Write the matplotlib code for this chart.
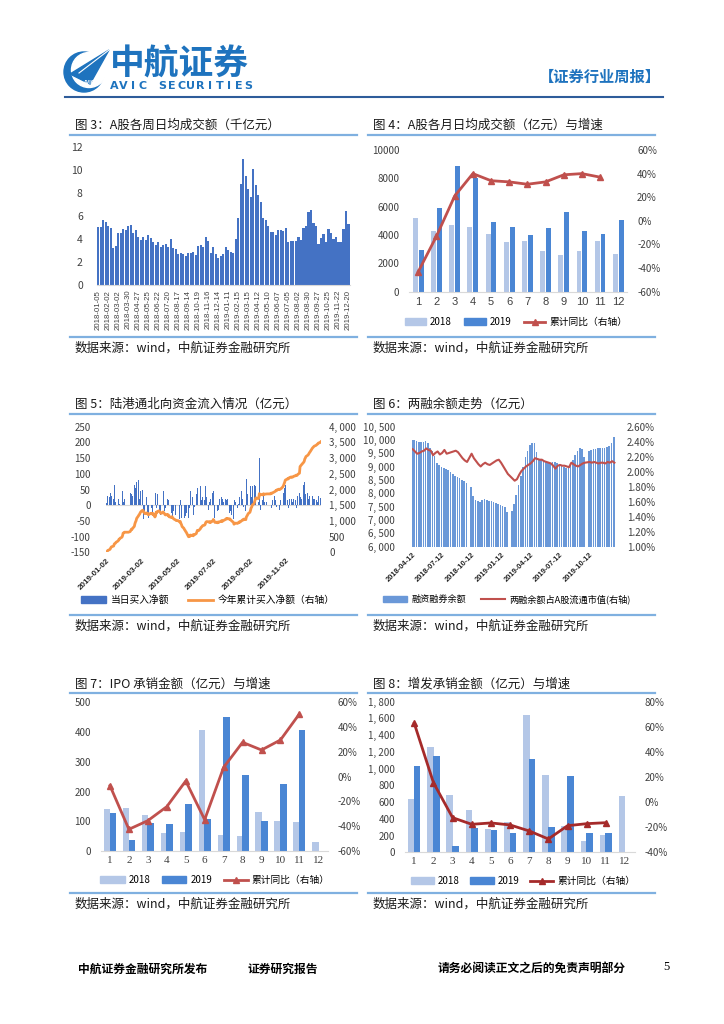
import numpy as np
import pandas as pd
import matplotlib
matplotlib.use('Agg')
import matplotlib.pyplot as plt
from matplotlib.patches import Patch, Polygon, Circle
from matplotlib.lines import Line2D

plt.rcParams['font.family'] = ['Noto Sans CJK SC', 'DejaVu Sans']
plt.rcParams['axes.unicode_minus'] = False

# ---- fig 3: weekly avg turnover (千亿元)
fig3_values = [5.0, 5.05, 5.6, 5.5, 5.1, 4.95, 3.2, 3.35, 4.5, 4.5,
               4.85, 4.75, 5.1, 5.2, 4.5, 4.75, 4.2, 3.9, 4.2, 3.9,
               4.3, 4.1, 3.7, 3.5, 3.7, 3.3, 3.5, 3.55, 3.3, 4.0,
               3.2, 3.1, 2.65, 2.8, 2.65, 2.5, 2.75, 2.8, 2.85, 2.6,
               3.4, 3.5, 3.3, 4.2, 3.8, 2.8, 3.3, 2.65, 2.35, 2.5,
               2.7, 3.3, 3.0, 2.9, 2.8, 4.0, 5.85, 8.8, 10.9, 9.5,
               8.3, 7.6, 10.1, 8.7, 7.8, 7.2, 5.8, 5.6, 5.1, 4.6,
               4.6, 4.3, 4.8, 4.8, 4.7, 4.95, 3.7, 3.8, 3.8, 3.85,
               4.15, 3.9, 4.95, 5.15, 6.35, 6.55, 5.4, 5.1, 3.6, 4.1,
               4.4, 3.75, 4.85, 4.55, 3.95, 4.15, 3.7, 3.75, 4.85, 6.45,
               5.3]
fig3_ticklabels = ['2018-01-05', '2018-02-02', '2018-03-02', '2018-03-30', '2018-04-27',
                   '2018-05-25', '2018-06-22', '2018-07-20', '2018-08-17', '2018-09-14',
                   '2018-10-19', '2018-11-16', '2018-12-14', '2019-01-11', '2019-02-15',
                   '2019-03-15', '2019-04-12', '2019-05-10', '2019-06-07', '2019-07-05',
                   '2019-08-02', '2019-08-30', '2019-09-27', '2019-10-25', '2019-11-22',
                   '2019-12-20']

# ---- fig 4: monthly avg daily turnover (亿元)
months = list(range(1, 13))
fig4_2018 = [5200, 4300, 4700, 4600, 4100, 3500, 3550, 2850, 2600, 2900, 3550, 2650]
fig4_2019 = [2950, 5900, 8850, 8050, 4900, 4600, 4000, 4500, 5650, 4250, 4050, 5050]
fig4_yoy = [-43, -13, 21, 40, 34, 33, 31, 33, 39, 40, 37]

# ---- fig 5: northbound daily net buying 2019 (亿元), one row per week
fig5_daily_weeks = [
    [8, 22, 30],
    [25, 15, 40, 30, 10], [20, 65, 15, 10, 30], [35, 20, 40, 5, 30], [30, 45, 85, 10, 20],
    [0, 0, 0, 0, 0], [20, 40, 35, -5, 30], [65, 85, 55, 40, 75], [80, 35, 20, 45, 30],
    [50, -15, -45, -20, -30], [25, -30, 10, -40, 15], [30, -10, 15, -35, 20], [-105, 40, 110, -10, 35],
    [20, -25, -30, -25, 0], [45, -30, -20, -35, -10], [20, -40, 15, -55, 0], [-25, 30, -35, -20, -20],
    [-30, -20, 0, 0, 0], [-45, 15, -60, -40, -60], [-55, -40, -25, -35, -25], [-105, -40, 20, -10, 45],
    [-20, 25, -30, 40, -5], [35, 50, 55, -10, 0], [60, 40, 15, 20, 25], [15, 20, 60, 25, 10],
    [-15, 10, -25, 20, -10], [40, 45, -30, -40, -25], [10, -20, 25, -15, 20], [15, 25, -30, 20, 10],
    [30, 20, 15, -15, 20], [-25, 10, -20, -15, -30], [-45, -60, 15, 10, 10], [-10, 20, 5, 25, -10],
    [45, 20, 10, -5, 30], [-20, 85, 30, 35, 40], [45, 60, 80, 25, 60], [55, 65, 60, 50, 0],
    [-20, 10, 150, -25, -15], [15, -20, 40, -25, 10], [10, 0, 0, 0, 0], [0, 25, -10, 15, 10],
    [30, 15, 20, -5, 30], [20, -15, 10, 15, 10], [60, 40, 50, 55, 65], [30, 15, -10, 25, 20],
    [20, -15, 10, 5, 20], [15, 20, -10, 5, 30], [40, 210, 25, 20, 25], [65, 30, 75, 35, 45],
    [40, 20, 35, 30, 25], [90, 30, 20, 20, 20], [25, 15, 20, 10, 30],
    [15, 22],
]
fig5_ticklabels = ['2019-01-02', '2019-03-02', '2019-05-02', '2019-07-02', '2019-09-02', '2019-11-02']

# ---- fig 6: margin balance (亿元) weekly and its share of A-share float cap (%)
fig6_start = '2018-04-13'
fig6_margin = [10000, 10000, 9960, 9940, 9920, 9940, 9950, 9900, 9700, 9600,
               9400, 9150, 9050, 9000, 8960, 8930, 8875, 8790, 8720, 8660,
               8620, 8570, 8520, 8470, 8380, np.nan, 8250, 7900, 7740, 7700,
               7690, 7740, 7775, 7760, 7720, 7700, 7660, 7630, 7600, 7570,
               7530, 7500, 7300, np.nan, 7350, 7600, 7950, 8300, 8650, 9000,
               9350, 9600, 9800, 9900, 9880, 9550, 9300, 9250, 9220, 9190,
               9170, 9150, 9170, 9190, 9150, 9080, 9030, 8980, 8940, 8960,
               9050, 9250, 9450, 9600, 9720, 9680, 9350, np.nan, 9600, 9620,
               9650, 9670, 9700, 9720, 9690, 9700, 9740, 9790, 9900, 10100]
fig6_ratio = [2.30, 2.27, 2.24, 2.25, 2.27, 2.28, 2.31, 2.29, 2.28, 2.22,
              2.25, 2.27, 2.23, 2.25, 2.29, 2.24, 2.25, 2.26, 2.27, 2.28,
              2.26, 2.22, 2.18, 2.15, 2.13, np.nan, 2.24, 2.18, 2.14, 2.10,
              2.07, 2.10, 2.12, 2.10, 2.09, 2.11, 2.13, 2.15, 2.16, 2.12,
              2.07, 2.02, 1.97, np.nan, 1.91, 1.88, 1.90, 1.96, 2.01, 2.04,
              2.07, 2.09, 2.11, 2.14, 2.18, 2.17, 2.16, 2.16, 2.14, 2.13,
              2.12, 2.11, 2.08, 2.04, 2.08, 2.09, 2.08, 2.08, 2.07, 2.06,
              2.12, 2.10, 2.08, 2.07, 2.09, 2.11, 2.12, np.nan, 2.13, 2.12,
              2.13, 2.12, 2.11, 2.12, 2.12, 2.11, 2.13, 2.12, 2.14, 2.12]
fig6_ticklabels = ['2018-04-12', '2018-07-12', '2018-10-12', '2019-01-12',
                   '2019-04-12', '2019-07-12', '2019-10-12']

# ---- fig 7: IPO underwriting (亿元)
fig7_2018 = [140, 146, 120, 59, 64, 407, 55, 50, 132, 101, 99, 30]
fig7_2019 = [129, 37, 95, 90, 158, 107, 450, 254, 102, 226, 406]
fig7_yoy = [-7.3, -42.5, -35.5, -24.2, -3.5, -34.7, 7.5, 27.7, 21.5, 29.6, 50.6]

# ---- fig 8: follow-on underwriting (亿元)
fig8_2018 = [637, 1258, 681, 506, 283, 358, 1645, 924, 315, 135, 207, 673]
fig8_2019 = [1027, 1155, 76, 291, 263, 235, 1111, 299, 916, 231, 231]
fig8_yoy = [62.7, 15.5, -12.4, -17.7, -16.6, -18.2, -23.0, -29.4, -18.8, -17.2, -16.4]

W, H = 724, 1024
BLUE = '#4472C4'
LIGHT = '#B4C7E7'
DARK = '#4A86D4'
MARGIN_BLUE = '#6A98D8'
RED = '#C0504D'
BRAND = '#1E73BE'
GREY_TXT = '#404040'

fig = plt.figure(figsize=(W / 100, H / 100), dpi=100)
deco = fig.add_axes([0, 0, 1, 1])
deco.set_xlim(0, W)
deco.set_ylim(H, 0)
deco.axis('off')


def rect(l, t, r, b):
    return [l / W, 1 - b / H, (r - l) / W, (b - t) / H]


def clean(ax, bottom=True):
    for s in ['top', 'left', 'right']:
        ax.spines[s].set_visible(False)
    ax.spines['bottom'].set_visible(bottom)
    ax.spines['bottom'].set_color('#D9D9D9')
    ax.tick_params(length=0, labelsize=7, colors=GREY_TXT)
    ax.set_facecolor('none')


def thousands(v):
    return f'{v:,}'.replace(',', ', ')


# ---------------- header ----------------
deco.add_patch(Circle((84, 72), 20, color=BRAND))
deco.add_patch(Circle((89, 70), 17.5, color='white'))
deco.add_patch(Polygon([(70, 74), (109, 50), (90, 84)], color=BRAND))
deco.plot([79, 109], [73, 50], color='white', lw=0.8)
deco.text(88, 83, 'AVIC', fontsize=3.5, color='white', ha='center', va='center', weight='bold')
deco.text(110, 64, '中航证券', fontsize=25, weight='bold', color=BRAND, va='center', ha='left')
for k, ch in enumerate('AVIC SECURITIES'):
    deco.text(114 + k * 9.6, 86, ch, fontsize=8, weight='bold', color=BRAND,
              ha='center', va='center', family='DejaVu Sans')
deco.text(661, 77, '【证券行业周报】', fontsize=11, weight='bold', color=BRAND, ha='right', va='center')
deco.plot([65, 663], [97, 97], color='#2E5C9A', lw=1.5)


def frame(x0, x1, y_title, y_tline, y_sline, title):
    deco.text(x0 + 5, y_title, title, fontsize=9, ha='left', va='center', color='#1a1a1a')
    deco.plot([x0, x1], [y_tline, y_tline], color='#7FB0E0', lw=1.6)
    deco.plot([x0, x1], [y_sline, y_sline], color='#7FB0E0', lw=1.6)
    deco.text(x0 + 5, y_sline + 11, '数据来源：wind，中航证券金融研究所', fontsize=9,
              ha='left', va='center', color='#1a1a1a')


frame(70, 357, 125, 135, 337, '图 3：A股各周日均成交额（千亿元）')
frame(368, 655, 125, 135, 337, '图 4：A股各月日均成交额（亿元）与增速')
frame(70, 357, 404, 414, 615, '图 5：陆港通北向资金流入情况（亿元）')
frame(368, 655, 404, 414, 615, '图 6：两融余额走势（亿元）')
frame(70, 357, 684, 693, 893, '图 7：IPO 承销金额（亿元）与增速')
frame(368, 655, 684, 693, 893, '图 8：增发承销金额（亿元）与增速')

# ---------------- fig 3 ----------------
ax3 = fig.add_axes(rect(96.7, 146.7, 350, 285))
clean(ax3)
x3 = np.arange(len(fig3_values))
ax3.bar(x3, fig3_values, width=0.85, color=BLUE, linewidth=0)
ax3.set_xlim(-0.6, len(fig3_values) - 0.4)
ax3.set_ylim(0, 12)
ax3.set_yticks(range(0, 13, 2))
ax3.tick_params(axis='y', pad=10, labelsize=7.5)
ax3.set_xticks(x3[::4])
ax3.set_xticklabels(fig3_ticklabels, rotation=90, fontsize=5.6, family='Liberation Sans')


# ---------------- grouped bar + line charts ----------------
def bar_line(r, y18, y19, yoy, ymax, ystep, fmt, rmin, rmax, rstep, line_color, w, off):
    ax = fig.add_axes(r)
    clean(ax)
    x = np.array(months)
    ax.bar(x[:len(y18)] - off, y18, w, color=LIGHT, linewidth=0)
    ax.bar(x[:len(y19)] + off, y19, w, color=DARK, linewidth=0)
    ax.set_xlim(0.5, 12.5)
    ax.set_ylim(0, ymax)
    ax.set_yticks(range(0, ymax + 1, ystep))
    ax.set_yticklabels([fmt(v) for v in range(0, ymax + 1, ystep)])
    ax.set_xticks(x)
    ax.tick_params(axis='y', pad=7)
    axr = ax.twinx()
    clean(axr, bottom=False)
    axr.plot(x[:len(yoy)], yoy, color=line_color, lw=2, marker='^', ms=4)
    axr.set_ylim(rmin, rmax)
    axr.set_yticks(range(rmin, rmax + 1, rstep))
    axr.set_yticklabels([f'{v}%' for v in range(rmin, rmax + 1, rstep)])
    axr.tick_params(axis='y', pad=7)
    return ax


ax4 = bar_line(rect(409.2, 150, 627.4, 291.7), fig4_2018, fig4_2019, fig4_yoy,
               10000, 2000, str, -60, 60, 20, RED, 0.27, 0.16)
ax4.set_xticklabels(months, fontsize=8, family='Liberation Sans')

ax7 = bar_line(rect(100.5, 702.3, 327.8, 851), fig7_2018, fig7_2019, fig7_yoy,
               500, 100, str, -60, 60, 20, RED, 0.34, 0.15)
ax7.set_xticklabels(months, fontsize=8, family='Liberation Serif')

ax8 = bar_line(rect(404.7, 701.7, 634.6, 852.3), fig8_2018, fig8_2019, fig8_yoy,
               1800, 200, thousands, -40, 80, 20, '#A52A2A', 0.34, 0.15)
ax8.set_xticklabels(months, fontsize=8, family='Liberation Serif')

# ---------------- fig 5 ----------------
daily5 = np.concatenate([np.array(wk, dtype=float) for wk in fig5_daily_weeks])
dates5 = pd.bdate_range('2019-01-02', '2019-12-31')
cum5 = np.cumsum(daily5)

ax5 = fig.add_axes(rect(106, 426.7, 320.7, 552.3))
clean(ax5, bottom=False)
ax5.axhline(0, color='#D9D9D9', lw=0.8, zorder=0)
ax5.bar(dates5, daily5, width=1.0, color=BLUE, linewidth=0)
ax5.set_ylim(-150, 250)
ax5.set_yticks(range(-150, 251, 50))
ax5.tick_params(axis='y', labelsize=7, pad=11)
ax5.set_xlim(pd.Timestamp('2019-01-01'), pd.Timestamp('2019-12-31'))
ax5.set_xticks(pd.to_datetime(fig5_ticklabels))
ax5.set_xticklabels(fig5_ticklabels, rotation=45, ha='right', rotation_mode='anchor',
                    fontsize=5.8, weight='bold', color='#262626', family='Liberation Sans')
ax5r = ax5.twinx()
clean(ax5r, bottom=False)
ax5r.plot(dates5, cum5, color='#F79646', lw=2)
ax5r.set_ylim(0, 4000)
ax5r.set_yticks(range(0, 4001, 500))
ax5r.set_yticklabels([thousands(v) for v in range(0, 4001, 500)])
ax5r.tick_params(axis='y', labelsize=7, pad=6)

# ---------------- fig 6 ----------------
weeks6 = pd.date_range(fig6_start, periods=len(fig6_margin), freq='7D')
margin6 = np.array(fig6_margin, dtype=float)
ratio6 = np.array(fig6_ratio, dtype=float)
ok_m = ~np.isnan(margin6)
ok_r = ~np.isnan(ratio6)

ax6 = fig.add_axes(rect(411.7, 426.7, 615.7, 546.7))
clean(ax6, bottom=False)
ax6.bar(weeks6[ok_m] - pd.Timedelta(days=2), margin6[ok_m], width=5, color=MARGIN_BLUE, linewidth=0)
ax6.set_ylim(6000, 10500)
ax6.set_yticks(range(6000, 10501, 500))
ax6.set_yticklabels([thousands(v) for v in range(6000, 10501, 500)])
ax6.tick_params(axis='y', labelsize=7, pad=12)
ax6.set_xlim(pd.Timestamp('2018-04-10'), pd.Timestamp('2019-12-31'))
ax6.set_xticks(pd.to_datetime(fig6_ticklabels))
ax6.set_xticklabels(fig6_ticklabels, rotation=45, ha='right', rotation_mode='anchor',
                    fontsize=5.4, weight='bold', color='#262626', family='Liberation Sans')
ax6r = ax6.twinx()
clean(ax6r, bottom=False)
ax6r.plot(weeks6[ok_r], ratio6[ok_r], color=RED, lw=1.5)
ax6r.set_ylim(1.0, 2.6)
rt = np.arange(1.0, 2.61, 0.2)
ax6r.set_yticks(rt)
ax6r.set_yticklabels([f'{v:.2f}%' for v in rt])
ax6r.tick_params(axis='y', labelsize=7, pad=8)


# ---------------- legends ----------------
def legend(handles, labels, cx, cy, fs=7, **kw):
    fig.legend(handles, labels, loc='center', bbox_to_anchor=(cx, cy),
               bbox_transform=deco.transData, ncol=len(handles), frameon=False,
               fontsize=fs, handleheight=0.6, borderaxespad=0, **kw)


def bar_legend(cx, cy, line_color, hl, cs):
    legend([Patch(color=LIGHT), Patch(color=DARK),
            Line2D([], [], color=line_color, lw=2, marker='^', ms=4)],
           ['2018', '2019', '累计同比（右轴）'], cx, cy,
           handlelength=hl, columnspacing=cs, handletextpad=0.4)


bar_legend(516, 322, RED, 2.2, 1.3)
bar_legend(215, 880, RED, 2.5, 1.2)
bar_legend(523, 881, '#A52A2A', 2.4, 1.1)
legend([Patch(color=BLUE), Line2D([], [], color='#F79646', lw=2)],
       ['当日买入净额', '今年累计买入净额（右轴）'], 208, 600,
       handlelength=2.5, columnspacing=2.0, handletextpad=0.5)
legend([Patch(color=MARGIN_BLUE), Line2D([], [], color=RED, lw=1.5)],
       ['融资融券余额', '两融余额占A股流通市值(右轴)'], 507, 599, fs=6.6,
       handlelength=2.6, columnspacing=1.6, handletextpad=0.5)

# ---------------- footer ----------------
deco.text(78, 969, '中航证券金融研究所发布', fontsize=8.5, weight='bold', va='center')
deco.text(248, 969, '证券研究报告', fontsize=8.5, weight='bold', va='center')
deco.text(438, 969, '请务必阅读正文之后的免责声明部分', fontsize=8.5, weight='bold', va='center')
deco.text(663, 967, '5', fontsize=9, family='Liberation Serif', va='center')

fig.savefig('out.png', dpi=100)
